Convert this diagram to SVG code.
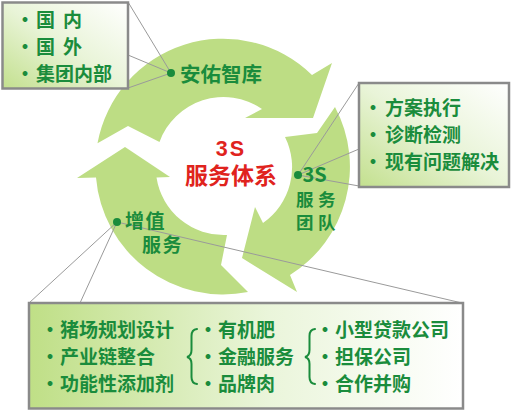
<svg xmlns="http://www.w3.org/2000/svg" width="512" height="411" viewBox="0 0 512 411">
<defs>
<linearGradient id="gDiag" x1="0" y1="1" x2="1" y2="0">
<stop offset="0" stop-color="#c3e08e"/>
<stop offset="0.5" stop-color="#e9f4d8"/>
<stop offset="1" stop-color="#ffffff"/>
</linearGradient>
<linearGradient id="gHorz" x1="0" y1="0" x2="1" y2="0">
<stop offset="0" stop-color="#bfdf86"/>
<stop offset="0.55" stop-color="#eaf5da"/>
<stop offset="1" stop-color="#ffffff"/>
</linearGradient>
</defs>
<style>
.arrow{fill:#bddd84;}
.conn{stroke:#9a9a9a;stroke-width:1;fill:none;}
.box{stroke:#8a8a8a;stroke-width:2.5;}
.dot{fill:#1a8c3c;}
.lbl{font-family:"Noto Sans CJK SC",sans-serif;font-weight:bold;fill:#1a8c3c;}
.item{font-family:"Noto Sans CJK SC",sans-serif;font-weight:bold;fill:#1a8c3c;font-size:19px;}
.bul{text-anchor:middle;}
.brace{fill:none;stroke:#1a8c3c;stroke-width:2;stroke-linecap:round;}
.ctr{font-family:"Liberation Sans","Noto Sans CJK SC",sans-serif;font-weight:bold;fill:#e0231d;text-anchor:middle;}
</style>
<rect width="512" height="411" fill="#ffffff"/>
<g id="cycle">
<path id="arrow-top" class="arrow" d="M 97.5,143.3 A 127.5 127.5 0 0 1 312,75 L 332,63 L 313,118 L 245,118 L 262,109 A 68 68 0 0 0 159.5,142 L 128,126 Z"/>
<path id="arrow-right" class="arrow" d="M 335,107 A 127.5 127.5 0 0 1 290,275 L 297,292 L 242,258 L 255,207 L 263,223 A 68 68 0 0 0 285,137 L 317,133 Z"/>
<path id="arrow-left" class="arrow" d="M 248,292 A 127.5 127.5 0 0 1 96,177.5 L 77,178 L 125,147 L 170,177 L 156.5,177.5 A 68 68 0 0 0 227,235 L 221,265 Z"/>
</g>
<g id="connectors">
<line class="conn" x1="171" y1="73" x2="128" y2="2"/>
<line class="conn" x1="171" y1="73" x2="128" y2="55"/>
<line class="conn" x1="171" y1="73" x2="128" y2="88"/>
<line class="conn" x1="298" y1="175" x2="359" y2="83"/>
<line class="conn" x1="298" y1="175" x2="359" y2="149"/>
<line class="conn" x1="298" y1="175" x2="359" y2="186"/>
<line class="conn" x1="117" y1="222" x2="29" y2="303"/>
<line class="conn" x1="117" y1="222" x2="80" y2="303"/>
<line class="conn" x1="117" y1="222" x2="462" y2="303"/>
</g>
<g id="node-center">
<text class="ctr" x="231" y="155.5" font-size="21.5" letter-spacing="2">3S</text>
<text class="ctr" x="231" y="183.5" font-size="23" font-family="Noto Sans CJK SC, sans-serif">服务体系</text>
</g>
<g id="node-anyou">
<circle class="dot" cx="171" cy="73" r="4"/>
<text class="lbl" x="180" y="81.5" font-size="20.5">安佑智库</text>
</g>
<g id="node-team">
<circle class="dot" cx="298" cy="175" r="4"/>
<text class="lbl" x="302.5" y="182" font-size="20" font-family="Liberation Sans, Noto Sans CJK SC, sans-serif">3S</text>
<text class="lbl" y="205.5" font-size="17.5"><tspan x="296">服</tspan><tspan x="318">务</tspan></text>
<text class="lbl" y="229" font-size="17.5"><tspan x="296">团</tspan><tspan x="318">队</tspan></text>
</g>
<g id="node-value">
<circle class="dot" cx="117" cy="222" r="4"/>
<text class="lbl" y="227.5" font-size="19"><tspan x="125">增</tspan><tspan x="145.5">值</tspan></text>
<text class="lbl" y="251.5" font-size="19"><tspan x="142">服</tspan><tspan x="162.5">务</tspan></text>
</g>
<g id="box-anyou">
<rect class="box" x="2.5" y="2.5" width="125.5" height="86" fill="url(#gDiag)"/>
<text class="item bul" x="25" y="27">·</text>
<text class="item" y="27"><tspan x="36">国</tspan><tspan x="63">内</tspan></text>
<text class="item bul" x="25" y="54">·</text>
<text class="item" y="54"><tspan x="36">国</tspan><tspan x="63">外</tspan></text>
<text class="item bul" x="25" y="80.5">·</text>
<text class="item" x="36" y="80.5">集团内部</text>
</g>
<g id="box-team">
<rect class="box" x="359" y="83" width="150" height="104" fill="url(#gDiag)"/>
<text class="item bul" x="373" y="115">·</text>
<text class="item" x="385" y="115" font-size="19.5">方案执行</text>
<text class="item bul" x="373" y="142">·</text>
<text class="item" x="385" y="142" font-size="19.5">诊断检测</text>
<text class="item bul" x="373" y="169">·</text>
<text class="item" x="385" y="169" font-size="19.5">现有问题解决</text>
</g>
<g id="box-value">
<rect class="box" x="29" y="303" width="434" height="105.5" fill="url(#gHorz)"/>
<text class="item bul" x="50" y="337">·</text>
<text class="item" x="60" y="337" font-size="19.6">猪场规划设计</text>
<text class="item bul" x="50" y="364">·</text>
<text class="item" x="60" y="364" font-size="19.6">产业链整合</text>
<text class="item bul" x="50" y="390.5">·</text>
<text class="item" x="60" y="390.5" font-size="19.6">功能性添加剂</text>
<path class="brace" d="M 197,329 Q 191.5,329.5 191.5,336 L 191.5,350 Q 191.5,356 187,357 Q 191.5,358 191.5,364 L 191.5,377 Q 191.5,383.5 197,384"/>
<text class="item bul" x="208" y="337">·</text>
<text class="item" x="218" y="337" font-size="19.6">有机肥</text>
<text class="item bul" x="208" y="364">·</text>
<text class="item" x="218" y="364" font-size="19.6">金融服务</text>
<text class="item bul" x="208" y="390.5">·</text>
<text class="item" x="218" y="390.5" font-size="19.6">品牌肉</text>
<path class="brace" d="M 315,329 Q 309.5,329.5 309.5,336 L 309.5,350 Q 309.5,356 305,357 Q 309.5,358 309.5,364 L 309.5,377 Q 309.5,383.5 315,384"/>
<text class="item bul" x="325" y="337">·</text>
<text class="item" x="335" y="337" font-size="19.6">小型贷款公司</text>
<text class="item bul" x="325" y="364">·</text>
<text class="item" x="335" y="364" font-size="19.6">担保公司</text>
<text class="item bul" x="325" y="390.5">·</text>
<text class="item" x="335" y="390.5" font-size="19.6">合作并购</text>
</g>
</svg>
